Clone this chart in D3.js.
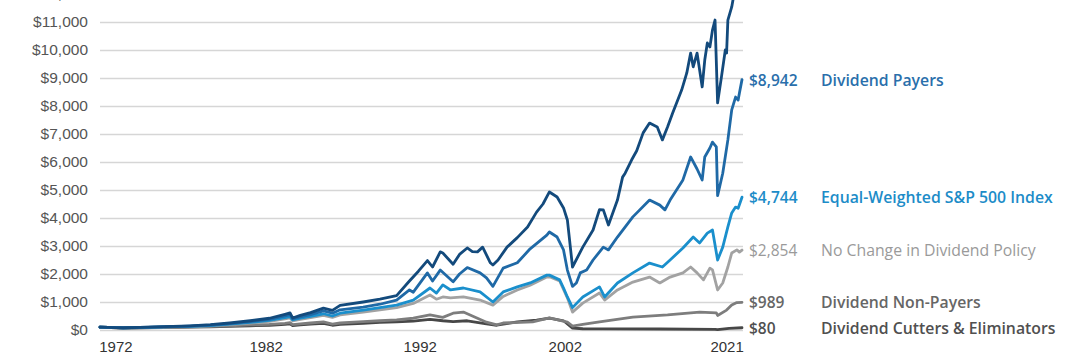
<!DOCTYPE html>
<html>
<head>
<meta charset="utf-8">
<script src="https://cdn.jsdelivr.net/npm/d3@7"></script>
<style>
  html, body { margin: 0; padding: 0; background: #fff; }
  svg { display: block; font-family: "Open Sans", "Noto Sans", sans-serif; }
</style>
</head>
<body>
<svg id="chart" width="1073" height="358"></svg>
<script>
// ---- Data (values of $100 invested) ----
const yTicks = [0, 1000, 2000, 3000, 4000, 5000, 6000, 7000, 8000, 9000, 10000, 11000, 12000];
const xTickPositions = [1973.2, 1984.9, 1996.9, 2008.2, 2020.8];
const xTickLabels = ["1972", "1982", "1992", "2002", "2021"];

const growers = [[1972,100],[1973.3,85],[1973.8,80],[1975.1,95],[1977,120],[1979,150],[1980.6,190],[1982.1,250],[1983.7,330],[1985.2,420],[1986.4,560],[1986.8,610],[1987.0,430],[1987.6,520],[1988.4,620],[1989.4,780],[1990.1,700],[1990.7,880],[1992.5,1000],[1993.8,1100],[1995.1,1230],[1996.1,1750],[1996.8,2100],[1997.5,2480],[1997.9,2250],[1998.5,2790],[1998.7,2750],[1999.5,2350],[2000.0,2700],[2000.6,2930],[2001.0,2800],[2001.4,2790],[2001.8,2960],[2002.4,2400],[2002.6,2320],[2003.0,2500],[2003.7,2960],[2004.5,3300],[2005.3,3680],[2006.0,4210],[2006.5,4500],[2007.0,4930],[2007.6,4750],[2008.1,4360],[2008.4,3930],[2008.8,2250],[2009.6,2960],[2010.4,3570],[2010.9,4300],[2011.2,4290],[2011.6,3750],[2012.3,4640],[2012.7,5460],[2012.9,5600],[2013.4,6070],[2013.8,6400],[2014.3,7040],[2014.8,7390],[2015.4,7250],[2015.8,6790],[2016.2,7250],[2016.6,7750],[2017.3,8570],[2017.7,9180],[2018.0,9890],[2018.2,9400],[2018.5,9890],[2018.9,8680],[2019.1,9640],[2019.3,10250],[2019.5,10110],[2019.7,10710],[2019.9,11070],[2020.1,8110],[2020.4,9040],[2020.7,10000],[2020.8,9890],[2020.9,11070],[2021.2,11540],[2021.5,12300],[2021.8,13000],[2022.0,13500]];

const payers = [[1972,100],[1973.3,85],[1973.8,78],[1975.1,92],[1977,115],[1979,140],[1980.6,175],[1982.1,230],[1983.7,300],[1985.2,380],[1986.4,500],[1986.8,550],[1987.0,400],[1987.6,470],[1988.4,550],[1989.4,680],[1990.1,600],[1990.7,720],[1992.5,820],[1993.8,920],[1995.1,1070],[1996.1,1430],[1996.4,1350],[1997.5,2040],[1997.9,1750],[1998.5,2140],[1999.5,1720],[2000.0,2000],[2000.6,2230],[2001.6,2040],[2002.1,1860],[2002.6,1560],[2003.4,2210],[2004.5,2400],[2005.5,2900],[2006.8,3390],[2007.0,3500],[2007.6,3320],[2008.1,2860],[2008.4,2140],[2008.8,1560],[2009.1,1680],[2009.4,2040],[2009.9,2140],[2010.4,2500],[2011.2,2960],[2011.6,2860],[2012.3,3320],[2013.5,4040],[2014.8,4640],[2015.6,4460],[2016.0,4290],[2016.4,4640],[2017.4,5360],[2018.0,6180],[2018.5,5750],[2018.9,5360],[2019.1,6180],[2019.5,6500],[2019.7,6710],[2020.0,6540],[2020.1,4800],[2020.5,5600],[2020.9,6790],[2021.2,7860],[2021.5,8320],[2021.7,8210],[2021.8,8460],[2022.0,8942]];

const equalWeighted = [[1972,100],[1973.3,85],[1973.8,75],[1975.1,88],[1977,110],[1979,130],[1980.6,160],[1982.1,210],[1983.7,270],[1985.2,340],[1986.4,440],[1986.8,480],[1987.0,360],[1987.6,420],[1988.4,490],[1989.4,580],[1990.1,500],[1990.7,600],[1992.5,710],[1993.8,800],[1995.1,890],[1996.4,1070],[1997.7,1500],[1998.2,1320],[1998.7,1610],[1999.3,1430],[2000.3,1500],[2001.6,1360],[2002.6,1000],[2003.4,1360],[2004.5,1540],[2005.5,1680],[2006.8,1960],[2007.0,1960],[2007.8,1790],[2008.1,1500],[2008.4,1180],[2008.8,800],[2009.6,1180],[2010.9,1540],[2011.3,1180],[2012.3,1680],[2013.5,2040],[2014.8,2390],[2015.8,2250],[2016.4,2500],[2017.4,2930],[2018.2,3320],[2018.7,3110],[2019.3,3460],[2019.7,3570],[2020.1,2500],[2020.5,2960],[2020.9,3680],[2021.2,4180],[2021.5,4390],[2021.7,4350],[2022.0,4744]];

const noChange = [[1972,100],[1973.3,85],[1973.8,75],[1975.1,88],[1977,108],[1979,125],[1980.6,150],[1982.1,195],[1983.7,250],[1985.2,310],[1986.4,400],[1986.8,430],[1987.0,330],[1987.6,380],[1988.4,440],[1989.4,520],[1990.1,450],[1990.7,540],[1992.5,640],[1993.8,720],[1995.1,800],[1996.4,950],[1997.7,1250],[1998.2,1100],[1998.7,1180],[1999.3,1150],[2000.3,1180],[2001.6,1070],[2002.6,890],[2003.4,1200],[2004.5,1430],[2005.5,1600],[2006.8,1890],[2007.0,1900],[2007.8,1750],[2008.4,1150],[2008.8,640],[2009.6,960],[2010.9,1320],[2011.3,1070],[2012.3,1430],[2013.5,1710],[2014.8,1890],[2015.6,1680],[2016.4,1890],[2017.4,2040],[2018.0,2250],[2018.5,2040],[2019.0,1790],[2019.5,2210],[2019.7,2150],[2020.1,1430],[2020.5,1680],[2020.9,2250],[2021.2,2750],[2021.6,2860],[2021.8,2780],[2022.0,2854]];

const nonPayers = [[1972,100],[1973.3,80],[1973.8,65],[1975.1,75],[1977,95],[1979,110],[1980.6,130],[1982.1,150],[1983.7,180],[1985.2,200],[1986.4,240],[1986.8,260],[1987.0,190],[1987.6,220],[1988.4,250],[1989.4,290],[1990.1,210],[1990.7,250],[1992.5,300],[1993.8,330],[1995.1,360],[1996.4,420],[1997.7,540],[1998.7,450],[1999.5,600],[2000.3,640],[2001.0,500],[2002.1,280],[2002.9,180],[2003.4,250],[2005.7,290],[2007.0,430],[2008.4,280],[2008.8,140],[2009.6,200],[2010.9,290],[2013.5,460],[2016.2,540],[2018.7,640],[2020.0,610],[2020.1,520],[2020.8,710],[2021.2,890],[2021.6,980],[2022.0,989]];

const cutters = [[1972,100],[1973.3,80],[1973.8,65],[1975.1,75],[1977,90],[1979,100],[1980.6,115],[1982.1,130],[1983.7,150],[1985.2,170],[1986.4,200],[1986.8,220],[1987.0,160],[1987.6,180],[1988.4,210],[1989.4,240],[1990.1,170],[1990.7,200],[1992.5,240],[1993.8,270],[1995.1,290],[1996.4,320],[1997.7,380],[1998.7,330],[1999.5,300],[2000.6,330],[2002.1,220],[2002.9,170],[2004.5,290],[2006.0,350],[2007.0,420],[2008.1,330],[2008.8,70],[2009.6,45],[2010.9,40],[2015.6,35],[2019.9,20],[2020.1,10],[2021.0,60],[2022.0,80]];

const seriesNames = ["Dividend Cutters & Eliminators", "Dividend Non-Payers", "No Change in Dividend Policy", "Equal-Weighted S&P 500 Index", "Dividend Payers", "Dividend Growers & Initiators"];
const seriesData = [cutters, nonPayers, noChange, equalWeighted, payers, growers];
const seriesColors = ["#474747", "#7d7d7d", "#a2a2a2", "#1a8fcc", "#1f69a6", "#134a7c"];
const labelValues = ["$80", "$989", "$2,854", "$4,744", "$8,942", null];
const labelColors = ["#505050", "#666666", "#9a9a9a", "#1d8cc8", "#2a6fab", null];
const labelWeights = [600, 600, 400, 600, 600, null];

// ---- Drawing ----
const svg = d3.select("#chart");
const left = 100, right = 743;

const x = d3.scaleLinear().domain([1972, 2022]).range([left, 742]);
const y = d3.scaleLinear().domain([0, 11000]).range([330, 22]);

// Y axis with gridlines
const yAxis = svg.append("g")
  .attr("transform", `translate(${left},0)`)
  .call(d3.axisLeft(y)
    .tickValues(yTicks)
    .tickSize(-(right - left))
    .tickPadding(12)
    .tickFormat(d => "$" + d3.format(",")(d)));
yAxis.select(".domain").remove();
yAxis.selectAll(".tick line").attr("stroke", "#d6d6d6").attr("stroke-width", 1.6);
yAxis.selectAll(".tick text").attr("fill", "#555").style("font-size", "15.5px");

// X axis labels
const xAxis = svg.append("g")
  .attr("transform", "translate(0,330)")
  .call(d3.axisBottom(x)
    .tickValues(xTickPositions)
    .tickSize(0)
    .tickPadding(11)
    .tickFormat((d, i) => xTickLabels[i]));
xAxis.select(".domain").remove();
xAxis.selectAll(".tick text").attr("fill", "#333").style("font-size", "15px");

// Lines
const line = d3.line().x(d => x(d[0])).y(d => y(d[1]));
svg.append("g").selectAll("path")
  .data(seriesData)
  .join("path")
  .attr("d", line)
  .attr("fill", "none")
  .attr("stroke", (d, i) => seriesColors[i])
  .attr("stroke-width", 2.8)
  .attr("stroke-linejoin", "round")
  .attr("stroke-linecap", "round");

// End labels
const labels = svg.append("g");
seriesData.forEach((s, i) => {
  if (!labelValues[i]) return;
  const last = s[s.length - 1];
  const ly = y(last[1]);
  labels.append("text")
    .attr("x", 749).attr("y", ly)
    .attr("dominant-baseline", "central")
    .attr("fill", labelColors[i])
    .attr("font-weight", labelWeights[i])
    .style("font-size", "15.5px")
    .text(labelValues[i]);
  labels.append("text")
    .attr("x", 821).attr("y", ly)
    .attr("dominant-baseline", "central")
    .attr("fill", labelColors[i])
    .attr("font-weight", labelWeights[i])
    .style("font-size", "15.8px")
    .text(seriesNames[i]);
});
</script>
</body>
</html>
